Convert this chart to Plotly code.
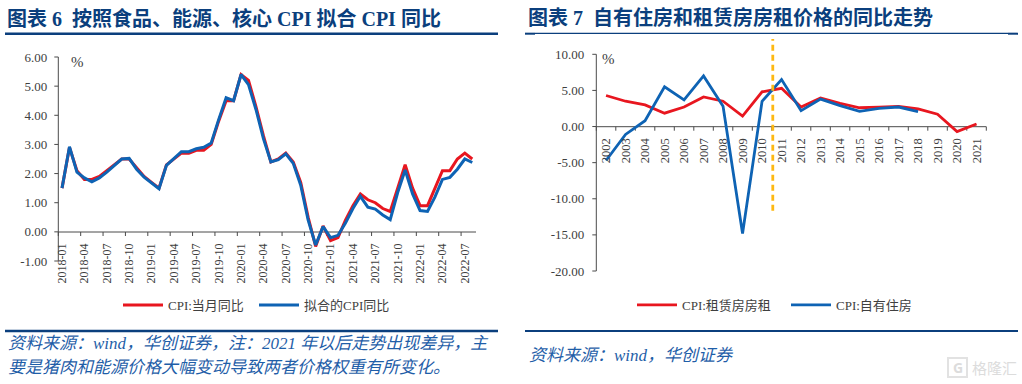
import plotly.graph_objects as go

W, H = 1022, 384
SERIF = "Liberation Serif, Noto Sans CJK SC, serif"
NAVY = "#0b3f7d"
RED = "#e8161f"
BLUE = "#0e63b4"
AXIS = "#4a4a4a"
TXT = "#404040"

months = [f"{y}-{m:02d}" for y in range(2018, 2023) for m in range(1, 13)][:56]
cpi_actual = [1.5, 2.9, 2.1, 1.8, 1.8, 1.9, 2.1, 2.3, 2.5, 2.5, 2.2, 1.9,
              1.7, 1.5, 2.3, 2.5, 2.7, 2.7, 2.8, 2.8, 3.0, 3.8, 4.5, 4.5,
              5.4, 5.2, 4.3, 3.3, 2.4, 2.5, 2.7, 2.4, 1.7, 0.5, -0.5, 0.2,
              -0.3, -0.2, 0.4, 0.9, 1.3, 1.1, 1.0, 0.8, 0.7, 1.5, 2.3, 1.5,
              0.9, 0.9, 1.5, 2.1, 2.1, 2.5, 2.7, 2.5]
cpi_fitted = [1.5, 2.92, 2.05, 1.85, 1.72, 1.85, 2.05, 2.28, 2.5, 2.52, 2.15, 1.88,
              1.68, 1.48, 2.28, 2.5, 2.75, 2.75, 2.85, 2.9, 3.05, 3.85, 4.6, 4.5,
              5.4, 5.05, 4.2, 3.2, 2.4, 2.48, 2.68, 2.35, 1.6, 0.4, -0.45, 0.18,
              -0.2, -0.12, 0.3, 0.8, 1.22, 0.85, 0.78, 0.58, 0.42, 1.35, 2.12, 1.3,
              0.73, 0.7, 1.2, 1.8, 1.87, 2.15, 2.5, 2.38]

years = [str(y) for y in range(2002, 2022)]
rent = [4.3, 3.5, 3.0, 1.85, 2.7, 4.1, 3.5, 1.45, 4.8, 5.3,
        2.7, 3.95, 3.2, 2.6, 2.7, 2.8, 2.45, 1.7, -0.7, 0.35]
owned = [-4.7, -1.1, 0.8, 5.5, 3.7, 7.0, 2.8, -14.8, 3.5, 6.5,
         2.2, 3.8, 2.9, 2.1, 2.5, 2.7, 2.05, None, None, None]
y_ticks_left = [-1, 0, 1, 2, 3, 4, 5, 6]
y_ticks_right = [-20, -15, -10, -5, 0, 5, 10]
marker_position = 8.55


def px(x):
    return x / W


def py(y):
    return 1 - y / H


fig = go.Figure()


def add_line(x, y, name, color, xa, ya, legend, width):
    fig.add_trace(go.Scatter(x=x, y=y, name=name, mode="lines", xaxis=xa, yaxis=ya,
                             legend=legend, line=dict(color=color, width=width),
                             connectgaps=False))


add_line(months, cpi_actual, "CPI:当月同比", RED, "x", "y", "legend", 3)
add_line(months, cpi_fitted, "拟合的CPI同比", BLUE, "x", "y", "legend", 3)
add_line(years, rent, "CPI:租赁房房租", RED, "x2", "y2", "legend2", 2.8)
add_line(years, owned, "CPI:自有住房", BLUE, "x2", "y2", "legend2", 2.8)

tick_font = dict(family=SERIF, size=13, color=TXT)


def label_axis(domain, zero_px, dtick, size, n):
    return dict(type="category", domain=domain, anchor="free", position=py(zero_px),
                range=[-0.5, n - 0.5], tickmode="linear", tick0=0, dtick=dtick, ticks="",
                showline=False, showgrid=False, zeroline=False, tickangle=-90,
                tickfont=dict(family=SERIF, size=size, color=TXT),
                ticklabelstandoff=8, automargin=False)


def value_axis(domain, rng, tickvals, standoff, anchor):
    return dict(domain=domain, range=rng, anchor=anchor, tickmode="array", tickvals=tickvals,
                ticktext=[f"{v:.2f}" for v in tickvals], ticks="", showline=False,
                showgrid=False, zeroline=False, tickfont=tick_font, ticklabelstandoff=standoff)


L_LEFT, L_RIGHT, L_TOP, L_BOTTOM, L_ZERO = 58.3, 476, 57, 261, 232
R_LEFT, R_RIGHT, R_TOP, R_BOTTOM, R_ZERO = 596.3, 986.3, 54.3, 271, 126.7

shapes = []


def seg(x0, x1, y0, y1, color=AXIS, width=1):
    shapes.append(dict(type="line", xref="paper", yref="paper", x0=px(x0), x1=px(x1),
                       y0=py(y0), y1=py(y1), line=dict(color=color, width=width), layer="below"))


def frame(left, right, top, bottom, zero, n, step, ticks):
    lo, hi = min(ticks), max(ticks)
    seg(left, left, top, bottom)
    seg(left, right, zero, zero)
    for v in ticks:
        y = bottom - (v - lo) / (hi - lo) * (bottom - top)
        seg(left - 4, left, y, y)
    for i in range(0, n + (0 if n % step else 1), step):
        x = left + i * (right - left) / n
        seg(x, x, zero, zero + 4)


frame(L_LEFT, L_RIGHT, L_TOP, L_BOTTOM, L_ZERO, len(months), 3, y_ticks_left)
frame(R_LEFT, R_RIGHT, R_TOP, R_BOTTOM, R_ZERO, len(years), 1, y_ticks_right)

seg(5, 498, 33.7, 33.7, NAVY, 2.4)
seg(5, 498, 331, 331, NAVY, 2.4)
seg(525, 1018, 33.4, 33.4, NAVY, 1.2)
seg(525, 535, 33.8, 33.8, NAVY, 1.8)
seg(1008, 1018, 33.8, 33.8, NAVY, 1.8)
seg(525, 1018, 331, 331, NAVY, 2.2)
shapes.append(dict(type="line", xref="x2", yref="paper", x0=marker_position, x1=marker_position,
                   y0=py(210.7), y1=py(39),
                   line=dict(color="#fdb813", width=2.8, dash="6px,4px")))
# watermark icon
shapes.append(dict(type="rect", xref="paper", yref="paper", x0=px(948), x1=px(967),
                   y0=py(377), y1=py(358), line=dict(color="#e2e2e2", width=2)))

annotations = []


def text(x, y, s, size, color=TXT, bold=False, italic=False, family=SERIF):
    annotations.append(dict(xref="paper", yref="paper", x=px(x), y=py(y), text=s, showarrow=False,
                            xanchor="left", yanchor="middle", align="left",
                            font=dict(family=family, size=size, color=color,
                                      weight="bold" if bold else "normal",
                                      style="italic" if italic else "normal")))


text(5, 18, "图表 6  按照食品、能源、核心 CPI 拟合 CPI 同比", 20, NAVY, bold=True)
text(526, 18, "图表 7  自有住房和租赁房房租价格的同比走势", 20, NAVY, bold=True)
text(69, 62, "%", 15)
text(600, 59, "%", 15)
text(6, 343, "资料来源：wind，华创证券，注：2021 年以后走势出现差异，主", 17, "#1f5ea8", italic=True)
text(6, 367, "要是猪肉和能源价格大幅变动导致两者价格权重有所变化。", 17, "#1f5ea8", italic=True)
text(527, 355, "资料来源：wind，华创证券", 17, "#1f5ea8", italic=True)
text(951, 367, "G", 14, "#dcdcdc", bold=True, family="Noto Sans")
text(970, 367, "格隆汇", 15, "#dcdcdc", family="Noto Sans CJK SC")

legend_common = dict(orientation="h", xanchor="left", yanchor="middle", bgcolor="rgba(0,0,0,0)",
                     font=dict(family=SERIF, size=13, color=TXT), itemwidth=40,
                     tracegroupgap=0, entrywidthmode="pixels")

fig.update_layout(
    width=W, height=H, autosize=False, margin=dict(l=0, r=0, t=0, b=0, autoexpand=False),
    paper_bgcolor="white", plot_bgcolor="rgba(0,0,0,0)", showlegend=True,
    xaxis=label_axis([px(L_LEFT), px(L_RIGHT)], L_ZERO, 3, 12, len(months)),
    xaxis2=label_axis([px(R_LEFT), px(R_RIGHT)], R_ZERO, 1, 12.5, len(years)),
    yaxis=value_axis([py(L_BOTTOM), py(L_TOP)], [min(y_ticks_left), max(y_ticks_left)],
                     y_ticks_left, 10, "x"),
    yaxis2=value_axis([py(R_BOTTOM), py(R_TOP)], [min(y_ticks_right), max(y_ticks_right)],
                      y_ticks_right, 11, "x2"),
    legend=dict(x=px(118), y=py(305), entrywidth=81, **legend_common),
    legend2=dict(x=px(632), y=py(305), entrywidth=99, **legend_common),
    shapes=shapes, annotations=annotations,
)

fig.write_html("out.html", config=dict(displayModeBar=False),
               post_script="document.body.style.margin='0';")
